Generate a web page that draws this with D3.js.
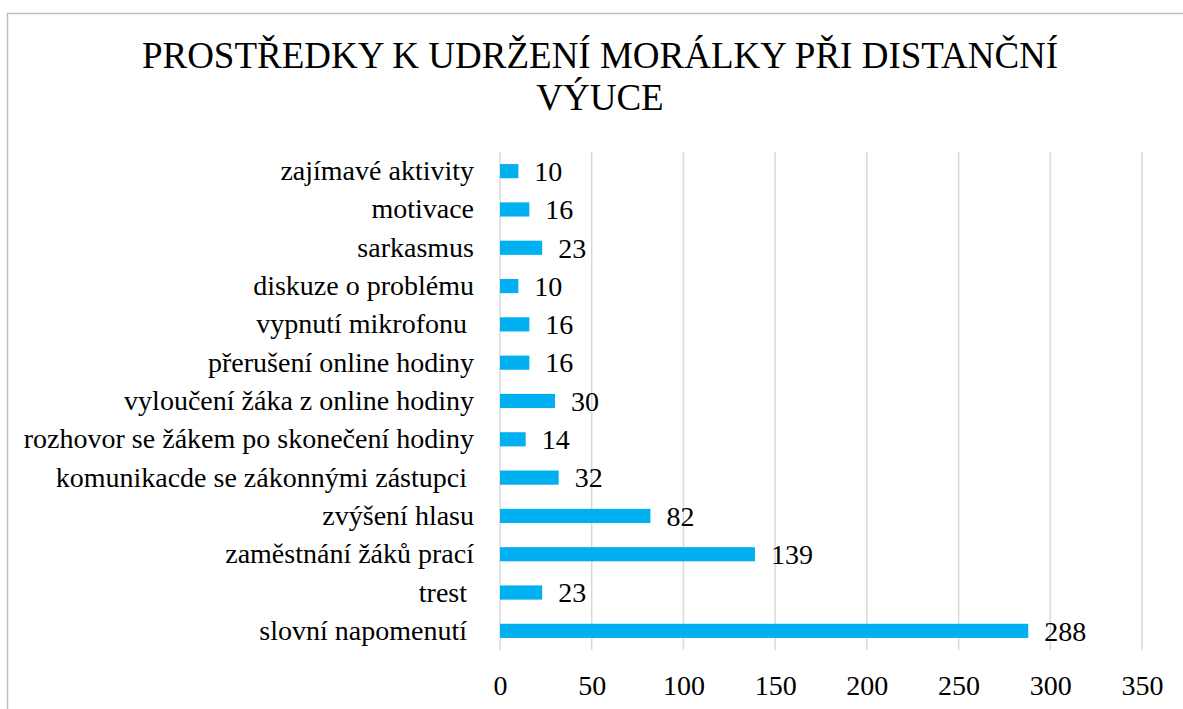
<!DOCTYPE html>
<html>
<head>
<meta charset="utf-8">
<script src="https://cdn.jsdelivr.net/npm/d3@7"></script>
</head>
<body style="margin:0">
<svg id="chart" width="1183" height="709"></svg>
<script>
var categories = ["zajímavé aktivity", "motivace", "sarkasmus", "diskuze o problému",
  "vypnutí mikrofonu ", "přerušení online hodiny", "vyloučení žáka z online hodiny",
  "rozhovor se žákem po skonečení hodiny", "komunikacde se zákonnými zástupci ",
  "zvýšení hlasu", "zaměstnání žáků prací", "trest ", "slovní napomenutí "];
var values = [10, 16, 23, 10, 16, 16, 30, 14, 32, 82, 139, 23, 288];
var ticks = [0, 50, 100, 150, 200, 250, 300, 350];
var titleLines = ["PROSTŘEDKY K UDRŽENÍ MORÁLKY PŘI DISTANČNÍ", "VÝUCE"];

var font = "'Liberation Serif', 'Times New Roman', Tinos, serif";
var svg = d3.select("#chart");

// frame (right and bottom edges fall outside the picture)
svg.append("rect")
  .attr("x", 7.5).attr("y", 13.5)
  .attr("width", 1200).attr("height", 720)
  .attr("fill", "none").attr("stroke", "#bfbfbf").attr("stroke-width", 1.5);

svg.append("g").selectAll("text")
  .data(titleLines)
  .enter().append("text")
  .attr("x", 600)
  .attr("y", function(d, i) { return 68 + i * 42; })
  .attr("text-anchor", "middle")
  .style("font-family", font)
  .style("font-size", "37px")
  .text(function(d) { return d; });

var x = d3.scaleLinear().domain([0, 350]).range([500, 1142]);
var y = d3.scaleBand().domain(categories).range([152, 650]).paddingInner(0.63).paddingOuter(0.315);

// gridlines
svg.append("g").selectAll("line")
  .data(ticks)
  .enter().append("line")
  .attr("x1", function(d) { return x(d); })
  .attr("x2", function(d) { return x(d); })
  .attr("y1", 152).attr("y2", 650)
  .attr("stroke", "#d9d9d9").attr("stroke-width", 1.5);

// x axis labels
var xAxis = d3.axisBottom(x).tickValues(ticks).tickSize(0).tickPadding(0);
var gx = svg.append("g").attr("transform", "translate(0,675)").call(xAxis);
gx.select(".domain").remove();
gx.selectAll("text").attr("dy", "0.71em").attr("fill", "#000")
  .style("font-family", font).style("font-size", "28px");

// y axis labels
var yAxis = d3.axisLeft(y).tickSize(0).tickPadding(26);
var gy = svg.append("g").attr("transform", "translate(500,0)").call(yAxis);
gy.select(".domain").remove();
gy.selectAll("text").attr("fill", "#000").style("white-space", "pre")
  .style("font-family", font).style("font-size", "28px");

svg.append("g").selectAll("rect")
  .data(values)
  .enter().append("rect")
  .attr("x", x(0))
  .attr("y", function(d, i) { return y(categories[i]); })
  .attr("width", function(d) { return x(d) - x(0); })
  .attr("height", y.bandwidth())
  .attr("fill", "#00b0f0");

svg.append("g").selectAll("text")
  .data(values)
  .enter().append("text")
  .attr("x", function(d) { return x(d) + 16; })
  .attr("y", function(d, i) { return y(categories[i]) + y.bandwidth() / 2; })
  .attr("dy", "0.35em")
  .style("font-family", font)
  .style("font-size", "28px")
  .text(function(d) { return d; });
</script>
</body>
</html>
